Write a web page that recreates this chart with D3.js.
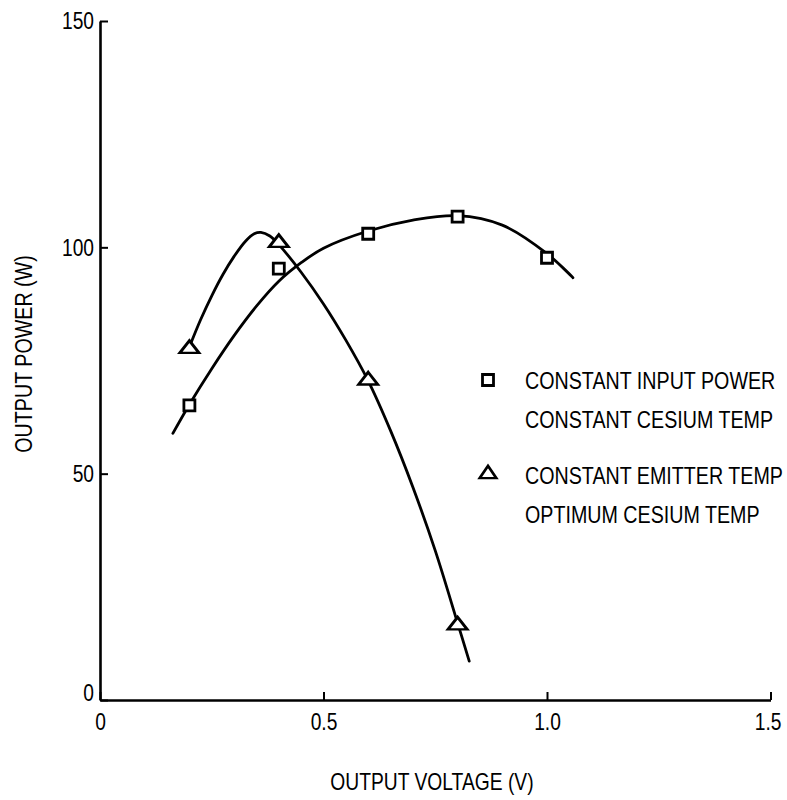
<!DOCTYPE html>
<html>
<head>
<meta charset="utf-8">
<script src="https://cdn.jsdelivr.net/npm/d3@7"></script>
<style>
  html, body { margin: 0; padding: 0; background: #fff; }
  svg { display: block; }
  text { font-family: "Liberation Sans", Arial, sans-serif; fill: #000; }
</style>
</head>
<body>
<svg id="chart" width="787" height="800"></svg>
<script>
// ---- data ----
const xTickValues = [0, 0.5, 1.0, 1.5];
const xTickLabels = ["0", "0.5", "1.0", "1.5"];
const yTickValues = [0, 50, 100, 150];
const yTickLabels = ["0", "50", "100", "150"];

// Constant input power, constant cesium temp (squares)
const squareX = [0.2, 0.4, 0.6, 0.8, 1.0];
const squareY = [65.1, 95.3, 103.0, 106.8, 97.7];
// hand-drawn fitted curve through the squares
const squareCurveX = [0.163, 0.2, 0.25, 0.3, 0.35, 0.4, 0.45, 0.5, 0.6, 0.7, 0.8, 0.9, 1.0, 1.058];
const squareCurveY = [58.9, 65.3, 73.2, 80.5, 87.0, 92.5, 96.6, 99.8, 103.6, 106.0, 107.0, 104.9, 98.6, 93.3];

// Constant emitter temp, optimum cesium temp (triangles)
const triX = [0.2, 0.4, 0.6, 0.8];
const triY = [77.6, 101.0, 70.6, 16.5];
// hand-drawn fitted curve through the triangles
const triCurveX = [0.2, 0.225, 0.25, 0.275, 0.3, 0.325, 0.345, 0.36, 0.38, 0.4, 0.45, 0.5, 0.55, 0.6, 0.65, 0.7, 0.75, 0.8, 0.826];
const triCurveY = [78.0, 84.0, 89.3, 94.0, 98.0, 101.3, 103.0, 103.3, 102.5, 100.6, 94.5, 87.5, 79.5, 70.5, 59.5, 47.0, 33.0, 17.0, 8.6];

const legendLines = [
  ["CONSTANT INPUT POWER", "CONSTANT CESIUM TEMP"],
  ["CONSTANT EMITTER TEMP", "OPTIMUM CESIUM TEMP"]
];
const xTitle = "OUTPUT VOLTAGE (V)";
const yTitle = "OUTPUT POWER (W)";

// ---- drawing ----
const svg = d3.select("#chart");
const x = d3.scaleLinear().domain([0, 1.5]).range([100, 770.5]);
const y = d3.scaleLinear().domain([0, 150]).range([700, 21]);
const ink = "#000";

// compress text horizontally about its anchor point (the reference uses a narrow typeface)
function narrow(sel, f) {
  sel.each(function () {
    const t = d3.select(this);
    const tx = +t.attr("x") || 0, ty = +t.attr("y") || 0;
    const prev = t.attr("transform") || "";
    t.attr("transform", `${prev} translate(${tx},${ty}) scale(${f},1) translate(${-tx},${-ty})`);
  });
}

// axes
const xAxis = d3.axisBottom(x)
  .tickValues(xTickValues)
  .tickFormat((d, i) => xTickLabels[i])
  .tickSizeInner(-8).tickSizeOuter(0).tickPadding(13);
const yAxis = d3.axisLeft(y)
  .tickValues(yTickValues)
  .tickFormat((d, i) => yTickLabels[i])
  .tickSizeInner(-8).tickSizeOuter(0).tickPadding(6);

const gx = svg.append("g").attr("transform", `translate(0,${y(0)})`).call(xAxis);
const gy = svg.append("g").attr("transform", `translate(${x(0)},0)`).call(yAxis);
[gx, gy].forEach(g => {
  g.select(".domain").attr("stroke", ink).attr("stroke-width", 2.6);
  g.selectAll(".tick line").attr("stroke", ink).attr("stroke-width", 2);
  g.selectAll(".tick text")
    .attr("font-family", "\"Liberation Sans\", Arial, sans-serif")
    .attr("font-size", 24).attr("fill", ink)
    .call(narrow, 0.8);
});
gy.selectAll(".tick text").filter(d => d === 0).attr("dy", "0.0em");
gx.selectAll(".tick text").filter(d => d === 1.5).attr("dx", "-0.15em");

// titles
svg.append("text")
  .attr("x", 432).attr("y", 790)
  .attr("text-anchor", "middle").attr("font-size", 23.5)
  .text(xTitle).call(narrow, 0.82);
svg.append("text")
  .attr("transform", "translate(32,354) rotate(-90)")
  .attr("text-anchor", "middle").attr("font-size", 24)
  .text(yTitle).call(narrow, 0.82);

// curves
const line = d3.line().x(d => x(d[0])).y(d => y(d[1])).curve(d3.curveCatmullRom.alpha(0.5));
const sqCurve = squareCurveX.map((v, i) => [v, squareCurveY[i]]);
const trCurve = triCurveX.map((v, i) => [v, triCurveY[i]]);
svg.append("path").datum(sqCurve).attr("d", line)
  .attr("fill", "none").attr("stroke", ink).attr("stroke-width", 2.8).attr("stroke-linecap", "round");
svg.append("path").datum(trCurve).attr("d", line)
  .attr("fill", "none").attr("stroke", ink).attr("stroke-width", 2.8).attr("stroke-linecap", "round");

// markers
const sqSym = d3.symbol().type(d3.symbolSquare).size(121);
const trSym = d3.symbol().type(d3.symbolTriangle).size(120);

svg.append("g").selectAll("path")
  .data(squareX.map((v, i) => [v, squareY[i]]))
  .join("path")
  .attr("d", sqSym)
  .attr("transform", d => `translate(${x(d[0])},${y(d[1])})`)
  .attr("fill", "#fff").attr("stroke", ink).attr("stroke-width", 2.8);

svg.append("g").selectAll("path")
  .data(triX.map((v, i) => [v, triY[i]]))
  .join("path")
  .attr("d", trSym)
  .attr("transform", d => `translate(${x(d[0])},${y(d[1])}) scale(1.15,0.85)`)
  .attr("fill", "#fff").attr("stroke", ink).attr("stroke-width", 2.8);

// legend
const legend = svg.append("g");
legend.append("path").attr("d", sqSym).attr("transform", "translate(488,380)")
  .attr("fill", "#fff").attr("stroke", ink).attr("stroke-width", 2.8);
legend.append("path").attr("d", trSym).attr("transform", "translate(488,474) scale(1.0,0.85)")
  .attr("fill", "#fff").attr("stroke", ink).attr("stroke-width", 2.8);
const legendBaselines = [[389, 428], [484, 523]];
legendLines.forEach((pair, i) => {
  pair.forEach((t, j) => {
    legend.append("text").attr("x", 525).attr("y", legendBaselines[i][j])
      .attr("font-size", 24).text(t).call(narrow, 0.82);
  });
});
</script>
</body>
</html>
